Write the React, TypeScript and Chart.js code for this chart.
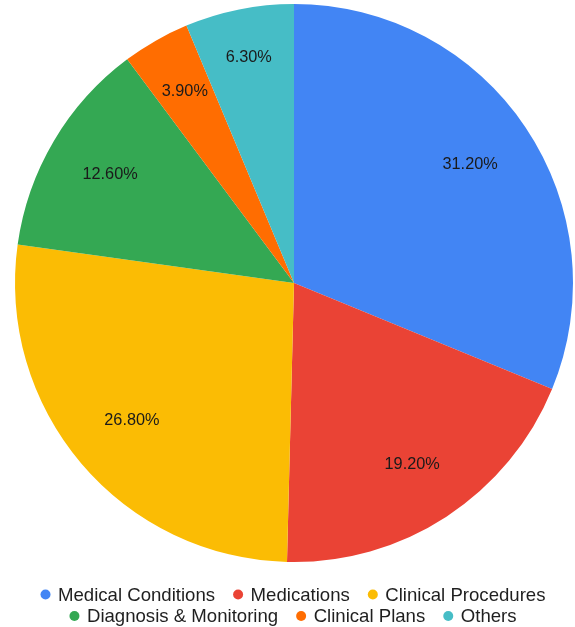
import React, { useEffect, useRef } from "react";
import { Chart, registerables } from "chart.js";

Chart.register(...registerables);

const categories = [
  "Medical Conditions",
  "Medications",
  "Clinical Procedures",
  "Diagnosis & Monitoring",
  "Clinical Plans",
  "Others",
];
const shares = [31.2, 19.2, 26.8, 12.6, 3.9, 6.3];
const colors = ["#4285F4", "#EA4335", "#FBBC04", "#34A853", "#FF6D01", "#46BDC6"];
const labelRadiusFactors = [0.76, 0.775, 0.762, 0.766, 0.79, 0.825];

const FONT = "Arial, 'Liberation Sans', Helvetica, sans-serif";

const sliceLabelPlugin = {
  id: "sliceLabels",
  afterDatasetsDraw(chart: any) {
    const ctx = chart.ctx;
    const meta = chart.getDatasetMeta(0);
    ctx.save();
    ctx.font = `16.3px ${FONT}`;
    ctx.fillStyle = "#1a1a1a";
    ctx.textAlign = "center";
    ctx.textBaseline = "middle";
    meta.data.forEach((arc: any, i: number) => {
      const p = arc.getProps(["x", "y", "startAngle", "endAngle", "outerRadius"], true);
      const mid = (p.startAngle + p.endAngle) / 2;
      const r = p.outerRadius * labelRadiusFactors[i];
      const x = p.x + Math.cos(mid) * r;
      const y = p.y + Math.sin(mid) * r;
      ctx.fillText(shares[i].toFixed(2) + "%", x, y);
    });
    ctx.restore();
  },
};

const customLegendPlugin = {
  id: "customLegend",
  afterDraw(chart: any) {
    const ctx = chart.ctx;
    const rows = [
      [0, 1, 2],
      [3, 4, 5],
    ];
    const rowY = [594.5, 616];
    const dotR = 5;
    const textGap = 12.5;
    const itemGap = 23;
    const centerX = chart.width / 2 + 10.5;
    ctx.save();
    ctx.font = `18.6px ${FONT}`;
    ctx.textBaseline = "middle";
    ctx.textAlign = "left";
    rows.forEach((row, ri) => {
      const widths = row.map((i) => ctx.measureText(categories[i]).width);
      let total = 0;
      row.forEach((_, k) => {
        total += dotR + textGap + widths[k];
        if (k < row.length - 1) total += itemGap;
      });
      let x = centerX - total / 2;
      const y = rowY[ri];
      row.forEach((i, k) => {
        const cx = x + dotR;
        ctx.beginPath();
        ctx.arc(cx, y, dotR, 0, Math.PI * 2);
        ctx.fillStyle = colors[i];
        ctx.fill();
        ctx.fillStyle = "#1f1f1f";
        ctx.fillText(categories[i], cx + textGap, y + 1);
        x = cx + textGap + widths[k] + itemGap - dotR;
      });
    });
    ctx.restore();
  },
};

export default function App() {
  const canvasRef = useRef<HTMLCanvasElement | null>(null);

  useEffect(() => {
    if (!canvasRef.current) return;
    const chart = new Chart(canvasRef.current, {
      type: "pie",
      data: {
        labels: categories,
        datasets: [
          {
            data: shares,
            backgroundColor: colors,
            borderWidth: 0,
          },
        ],
      },
      options: {
        animation: false,
        responsive: true,
        maintainAspectRatio: false,
        layout: { padding: { left: 15, right: 2, top: 4, bottom: 65 } },
        plugins: {
          legend: { display: false },
          tooltip: { enabled: false },
        },
      },
      plugins: [sliceLabelPlugin, customLegendPlugin],
    });
    return () => chart.destroy();
  }, []);

  return (
    <div style={{ position: "absolute", left: 0, top: 0, width: 575, height: 627, background: "#ffffff" }}>
      <canvas ref={canvasRef} />
    </div>
  );
}
